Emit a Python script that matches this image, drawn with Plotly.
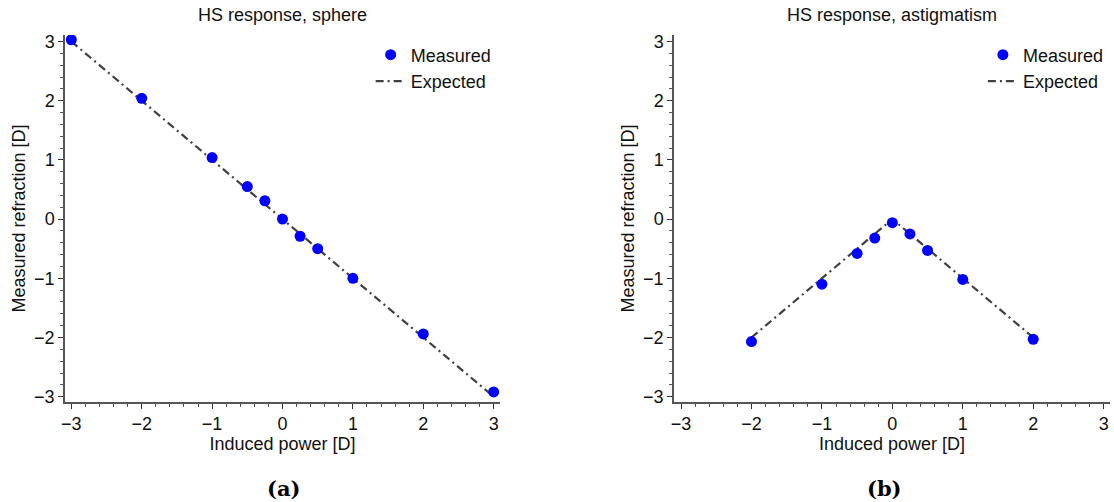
import plotly.graph_objects as go

# Data
sphere_x = [-3, -2, -1, -0.5, -0.25, 0, 0.25, 0.5, 1, 2, 3]
sphere_y = [3.03, 2.04, 1.04, 0.55, 0.31, 0.0, -0.29, -0.5, -1.0, -1.94, -2.92]
sphere_exp_x = [-3, 3]
sphere_exp_y = [3, -3]

astig_x = [-2, -1, -0.5, -0.25, 0, 0.25, 0.5, 1, 2]
astig_y = [-2.07, -1.1, -0.58, -0.32, -0.06, -0.25, -0.53, -1.02, -2.03]
astig_exp_x = [-2, 0, 2]
astig_exp_y = [-2, 0, -2]

tick_vals = [-3, -2, -1, 0, 1, 2, 3]
tick_text = ["\u22123", "\u22122", "\u22121", "0", "1", "2", "3"]

W, H = 1114, 502
FONT = "Liberation Sans, Arial, sans-serif"
FS = 18

fig = go.Figure()

dash = "8px,4px,2px,4px"
fig.add_trace(go.Scatter(x=sphere_exp_x, y=sphere_exp_y, mode="lines", name="Expected",
                         line=dict(color="#404040", width=2.2, dash=dash), xaxis="x", yaxis="y", legend="legend"))
fig.add_trace(go.Scatter(x=sphere_x, y=sphere_y, mode="markers", name="Measured",
                         marker=dict(color="#0000ff", size=11), xaxis="x", yaxis="y", legend="legend"))
fig.add_trace(go.Scatter(x=astig_exp_x, y=astig_exp_y, mode="lines", name="Expected",
                         line=dict(color="#404040", width=2.2, dash=dash), xaxis="x2", yaxis="y2", legend="legend2"))
fig.add_trace(go.Scatter(x=astig_x, y=astig_y, mode="markers", name="Measured",
                         marker=dict(color="#0000ff", size=11), xaxis="x2", yaxis="y2", legend="legend2"))

ydom = [(H - 402) / H, (H - 35) / H]
xdom1 = [65 / W, 500 / W]
xdom2 = [674 / W, 1110 / W]

def axis_common():
    return dict(
        showgrid=False, zeroline=False, showline=True, linecolor="#555555", linewidth=1.5,
        ticks="outside", ticklen=5, tickwidth=1.2, tickcolor="#333333",
        tickvals=tick_vals, ticktext=tick_text,
        tickfont=dict(family=FONT, size=FS, color="#111111"),
        minor=dict(dtick=0.2, ticks="outside", ticklen=3, tickwidth=1, tickcolor="#555555", showgrid=False),
        automargin=False,
    )

fig.update_layout(
    width=W, height=H,
    margin=dict(l=0, r=0, t=0, b=0),
    paper_bgcolor="white", plot_bgcolor="white",
    font=dict(family=FONT, size=FS, color="#111111"),
    xaxis=dict(domain=xdom1, range=[-3.09, 3.09], anchor="y",
               title=dict(text="Induced power [D]", standoff=2, font=dict(size=FS)), **axis_common()),
    yaxis=dict(domain=ydom, range=[-3.09, 3.11], anchor="x",
               title=dict(text="Measured refraction [D]", standoff=4, font=dict(size=FS)), **axis_common()),
    xaxis2=dict(domain=xdom2, range=[-3.1, 3.09], anchor="y2",
                title=dict(text="Induced power [D]", standoff=2, font=dict(size=FS)), **axis_common()),
    yaxis2=dict(domain=ydom, range=[-3.09, 3.11], anchor="x2",
                title=dict(text="Measured refraction [D]", standoff=4, font=dict(size=FS)), **axis_common()),
    legend=dict(x=xdom1[1] - 0.003, y=1 - 36.5 / H, xanchor="right", yanchor="top", bgcolor="rgba(0,0,0,0)",
                font=dict(family=FONT, size=FS), tracegroupgap=0, itemwidth=30, traceorder="reversed"),
    legend2=dict(x=xdom2[1] - 0.001, y=1 - 36.5 / H, xanchor="right", yanchor="top", bgcolor="rgba(0,0,0,0)",
                 font=dict(family=FONT, size=FS), tracegroupgap=0, itemwidth=30, traceorder="reversed"),
    showlegend=True,
)

annots = [
    dict(text="HS response, sphere", x=(xdom1[0] + xdom1[1]) / 2, y=1 - 15 / H),
    dict(text="HS response, astigmatism", x=(xdom2[0] + xdom2[1]) / 2, y=1 - 15 / H),
]
for a in annots:
    fig.add_annotation(xref="paper", yref="paper", xanchor="center", yanchor="middle",
                       showarrow=False, font=dict(family=FONT, size=FS, color="#111111"), **a)

fig.add_annotation(text="<b>(a)</b>", xref="paper", yref="paper", x=283 / W, y=1 - 488 / H,
                   showarrow=False, xanchor="center", yanchor="middle",
                   font=dict(family="DejaVu Serif, serif", size=21, color="black"))
fig.add_annotation(text="<b>(b)</b>", xref="paper", yref="paper", x=884 / W, y=1 - 488 / H,
                   showarrow=False, xanchor="center", yanchor="middle",
                   font=dict(family="DejaVu Serif, serif", size=21, color="black"))

fig.write_html("out.html")
